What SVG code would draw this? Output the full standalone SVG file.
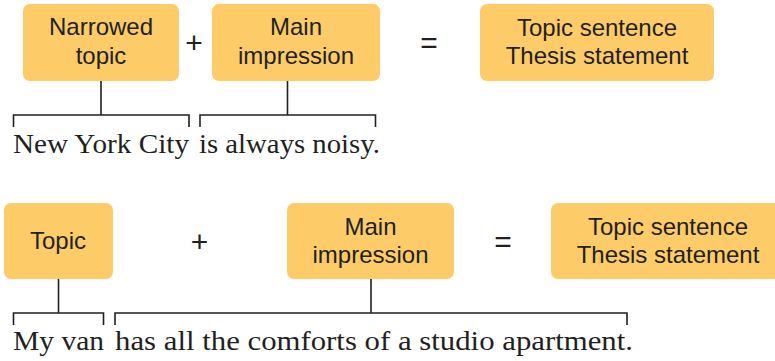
<svg xmlns="http://www.w3.org/2000/svg" width="775" height="361" viewBox="0 0 775 361">
<style>
.box{fill:#fdcb67}
.lbl{font-family:"Liberation Sans",Arial,sans-serif;font-size:24px;fill:#231f20;text-anchor:middle}
.op{font-family:"Liberation Sans",Arial,sans-serif;font-size:30px;fill:#231f20;text-anchor:middle}
.sent{font-family:"Liberation Serif","Times New Roman",serif;font-size:27px;fill:#231f20}
.br{fill:none;stroke:#231f20;stroke-width:1.6}
</style>
<rect width="775" height="361" fill="#ffffff"/>
<g id="narrowed-topic">
<rect class="box" x="23" y="4" width="156" height="77" rx="7"/>
<text class="lbl" x="101" y="35">Narrowed</text>
<text class="lbl" x="101" y="64">topic</text>
</g>
<g id="plus1"><text class="op" x="194" y="53">+</text></g>
<g id="main-impression-1">
<rect class="box" x="212" y="4" width="168" height="77" rx="7"/>
<text class="lbl" x="296" y="35">Main</text>
<text class="lbl" x="296" y="64">impression</text>
</g>
<g id="equals1"><text class="op" x="429" y="53">=</text></g>
<g id="topic-sentence-1">
<rect class="box" x="480" y="4" width="234" height="77" rx="7"/>
<text class="lbl" x="597" y="36">Topic sentence</text>
<text class="lbl" x="597" y="64">Thesis statement</text>
</g>
<g id="topic">
<rect class="box" x="4" y="203" width="109" height="76" rx="7"/>
<text class="lbl" x="58" y="249">Topic</text>
</g>
<g id="plus2"><text class="op" x="199.5" y="252">+</text></g>
<g id="main-impression-2">
<rect class="box" x="287" y="203" width="167" height="76" rx="7"/>
<text class="lbl" x="370.5" y="235">Main</text>
<text class="lbl" x="370.5" y="263">impression</text>
</g>
<g id="equals2"><text class="op" x="503" y="252">=</text></g>
<g id="topic-sentence-2">
<rect class="box" x="551" y="203" width="234" height="76" rx="7"/>
<text class="lbl" x="668" y="235">Topic sentence</text>
<text class="lbl" x="668" y="263">Thesis statement</text>
</g>
<g id="connectors">
<path class="br" d="M101 81V115M13.5 127V115H189V127"/>
<path class="br" d="M287.5 81V115M200 127V115H375.5V127"/>
<path class="br" d="M58.5 279V313M13.5 325V313H103.5V325"/>
<path class="br" d="M371 279V313M115 325V313H627V325"/>
</g>
<g id="sentences">
<text class="sent" x="13" y="153" textLength="176" lengthAdjust="spacingAndGlyphs">New York City</text>
<text class="sent" x="199" y="153" textLength="181" lengthAdjust="spacingAndGlyphs">is always noisy.</text>
<text class="sent" x="13" y="350" textLength="91" lengthAdjust="spacingAndGlyphs">My van</text>
<text class="sent" x="115" y="350" textLength="518" lengthAdjust="spacingAndGlyphs">has all the comforts of a studio apartment.</text>
</g>
</svg>
